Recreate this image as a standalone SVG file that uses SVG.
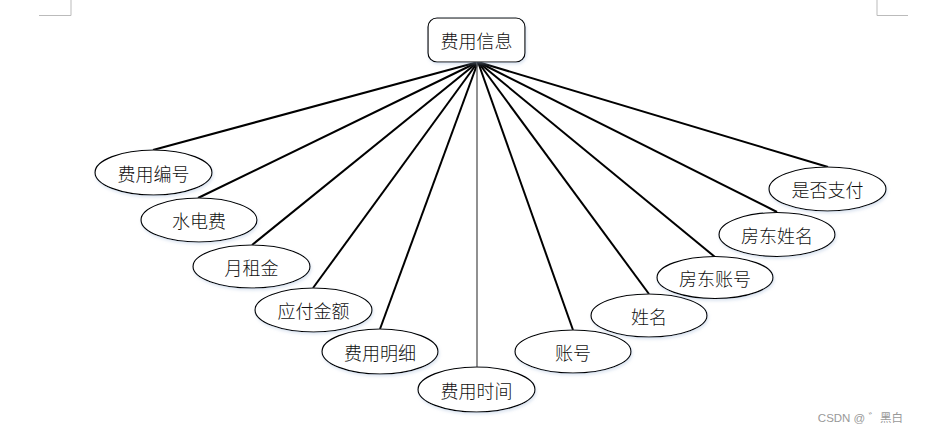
<svg xmlns="http://www.w3.org/2000/svg" width="928" height="433" viewBox="0 0 928 433">
<defs>
<filter id="sh" x="-20%" y="-20%" width="140%" height="150%">
<feDropShadow dx="1" dy="2" stdDeviation="1.5" flood-color="#9fb6d6" flood-opacity="0.35"/>
</filter>
</defs>
<style>
.e{fill:#fff;stroke:#000;stroke-width:1.2;filter:url(#sh)}
.t{font-family:"Noto Sans CJK SC","Liberation Serif",serif;font-size:18px;font-weight:300;fill:#111;text-anchor:middle;dominant-baseline:central}
.c{stroke:#000;stroke-width:2;fill:none}
.m{stroke:#bbb;stroke-width:1;fill:none}
</style>
<rect width="928" height="433" fill="#fff"/>
<path class="m" d="M71 0V15.5H39M877 0V15.5H908"/>
<g id="connectors">
<line class="c" x1="478" y1="62" x2="153" y2="150"/>
<line class="c" x1="478" y1="62" x2="198" y2="198"/>
<line class="c" x1="478" y1="62" x2="252" y2="245"/>
<line class="c" x1="478" y1="62" x2="313" y2="288"/>
<line class="c" x1="478" y1="62" x2="380" y2="329"/>
<line x1="477" y1="62" x2="477" y2="367" stroke="#555" stroke-width="1.3"/>
<line class="c" x1="478" y1="62" x2="573" y2="330"/>
<line class="c" x1="478" y1="62" x2="649" y2="294"/>
<line class="c" x1="478" y1="62" x2="715" y2="257"/>
<line class="c" x1="478" y1="62" x2="777" y2="212"/>
<line class="c" x1="478" y1="62" x2="828" y2="167"/>
</g>
<g id="n0"><rect x="428" y="18" width="97" height="44" rx="9" class="e"/><text class="t" x="476.5" y="40">费用信息</text></g>
<g id="n1"><ellipse cx="153.5" cy="172.5" rx="58.5" ry="22.5" class="e"/><text class="t" x="153.5" y="172.5">费用编号</text></g>
<g id="n2"><ellipse cx="199" cy="220" rx="58" ry="22" class="e"/><text class="t" x="199" y="220">水电费</text></g>
<g id="n3"><ellipse cx="251.5" cy="266.5" rx="58.5" ry="21.5" class="e"/><text class="t" x="251.5" y="266.5">月租金</text></g>
<g id="n4"><ellipse cx="313.5" cy="310" rx="58.5" ry="22" class="e"/><text class="t" x="313.5" y="310">应付金额</text></g>
<g id="n5"><ellipse cx="380" cy="351.5" rx="58" ry="22.5" class="e"/><text class="t" x="380" y="351.5">费用明细</text></g>
<g id="n6"><ellipse cx="476.5" cy="389.5" rx="58.5" ry="22.5" class="e"/><text class="t" x="476.5" y="389.5">费用时间</text></g>
<g id="n7"><ellipse cx="573" cy="351.5" rx="58" ry="21.5" class="e"/><text class="t" x="573" y="351.5">账号</text></g>
<g id="n8"><ellipse cx="649" cy="315.5" rx="58" ry="21.5" class="e"/><text class="t" x="649" y="315.5">姓名</text></g>
<g id="n9"><ellipse cx="715" cy="277.5" rx="58" ry="21" class="e"/><text class="t" x="715" y="277.5">房东账号</text></g>
<g id="n10"><ellipse cx="777" cy="234.5" rx="58" ry="22" class="e"/><text class="t" x="777" y="234.5">房东姓名</text></g>
<g id="n11"><ellipse cx="827.5" cy="189" rx="58.5" ry="22" class="e"/><text class="t" x="827.5" y="189">是否支付</text></g>
<text x="903" y="418" font-family="'Liberation Sans','Noto Sans CJK SC',sans-serif" font-size="11.5" fill="#999" text-anchor="end" dominant-baseline="central">CSDN @ ゛黑白</text>
</svg>
